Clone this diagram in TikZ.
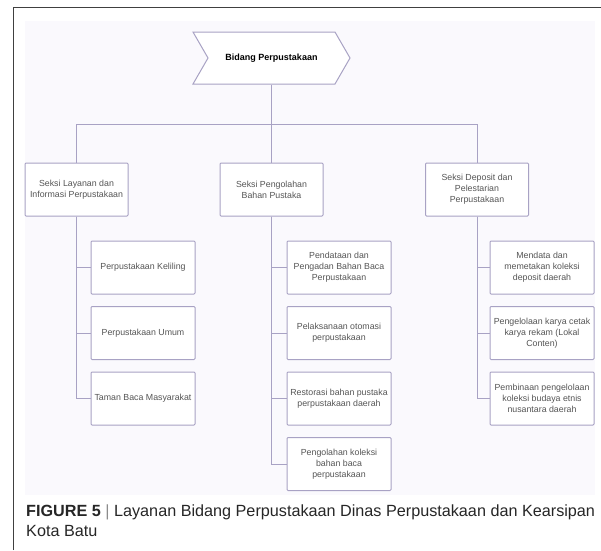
\documentclass[tikz,border=0pt]{standalone}
\usepackage{fontspec}
\setmainfont{Liberation Sans}
\usepackage{xcolor}
\usepackage{tikz}
\usetikzlibrary{shapes.symbols, positioning}
\definecolor{garis}{RGB}{168, 162, 196}
\definecolor{latar}{RGB}{250, 249, 253}
\definecolor{teks}{RGB}{85, 85, 85}
\tikzstyle{bidang} = [signal, signal to=east, signal from=west, signal pointer angle=120, minimum width=157pt, minimum height=52pt, draw=garis, fill=white, line width=1pt, font=\fontsize{9}{11}\selectfont\bfseries]
\tikzstyle{seksi} = [rectangle, rounded corners=1pt, minimum width=103pt, minimum height=53pt, inner sep=2pt, align=center, draw=garis, fill=white, line width=1pt, text=teks, font=\fontsize{8.8}{11}\selectfont]
\tikzstyle{layanan} = [seksi, minimum width=104pt]
\tikzstyle{line} = [draw=garis, line width=1pt]

\begin{document}
\begin{tikzpicture}[x=1pt, y=-1pt]
    \useasboundingbox (0, 0) rectangle (601, 550);
    % Frame
    \fill[latar] (25, 21) rectangle (595, 495);
    \draw[black!75, line width=1pt] (13, 550) -- (13, 7) -- (601, 7);

    % Bidang
    \node[bidang] (bidang) at (271.5, 58) {Bidang Perpustakaan};

    % Seksi
    \node[seksi] (layanan) at (76.5, 189.5) {Seksi Layanan dan\\Informasi Perpustakaan};
    \node[seksi] (pengolahan) at (271.5, 189.5) {Seksi Pengolahan\\Bahan Pustaka};
    \node[seksi] (deposit) at (477, 189.5) {Seksi Deposit dan\\Pelestarian\\Perpustakaan};

    % Layanan
    \node[layanan] (keliling) at (143, 267.5) {Perpustakaan Keliling};
    \node[layanan] (umum) at (143, 333) {Perpustakaan Umum};
    \node[layanan] (taman) at (143, 398.5) {Taman Baca Masyarakat};

    \node[layanan] (pendataan) at (339, 267.5) {Pendataan dan\\Pengadan Bahan Baca\\Perpustakaan};
    \node[layanan] (otomasi) at (339, 333) {Pelaksanaan otomasi\\perpustakaan};
    \node[layanan] (restorasi) at (339, 398.5) {Restorasi bahan pustaka\\perpustakaan daerah};
    \node[layanan] (koleksi) at (339, 464) {Pengolahan koleksi\\bahan baca\\perpustakaan};

    \node[layanan] (mendata) at (542, 267.5) {Mendata dan\\memetakan koleksi\\deposit daerah};
    \node[layanan] (karya) at (542, 333) {Pengelolaan karya cetak\\karya rekam (Lokal\\Conten)};
    \node[layanan] (budaya) at (542, 398.5) {Pembinaan pengelolaan\\koleksi budaya etnis\\nusantara daerah};

    % Garis
    \coordinate (bus) at (271.5, 124);
    \draw[line] (bidang.south) -- (bus);
    \draw[line] (bus) -| (layanan.north);
    \draw[line] (bus) -- (pengolahan.north);
    \draw[line] (bus) -| (deposit.north);

    \draw[line] (layanan.south) |- (keliling.west);
    \draw[line] (layanan.south) |- (umum.west);
    \draw[line] (layanan.south) |- (taman.west);
    \draw[line] (pengolahan.south) |- (pendataan.west);
    \draw[line] (pengolahan.south) |- (otomasi.west);
    \draw[line] (pengolahan.south) |- (restorasi.west);
    \draw[line] (pengolahan.south) |- (koleksi.west);
    \draw[line] (deposit.south) |- (mendata.west);
    \draw[line] (deposit.south) |- (karya.west);
    \draw[line] (deposit.south) |- (budaya.west);

    % Caption
    \node[anchor=base west, align=left, inner sep=0pt, text=black!85, font=\fontsize{16.2}{20}\selectfont] (caption) at (26, 536) {\textbf{FIGURE 5} {\color{black!45}|} Layanan Bidang Perpustakaan Dinas Perpustakaan dan Kearsipan\\Kota Batu};
\end{tikzpicture}
\end{document}
